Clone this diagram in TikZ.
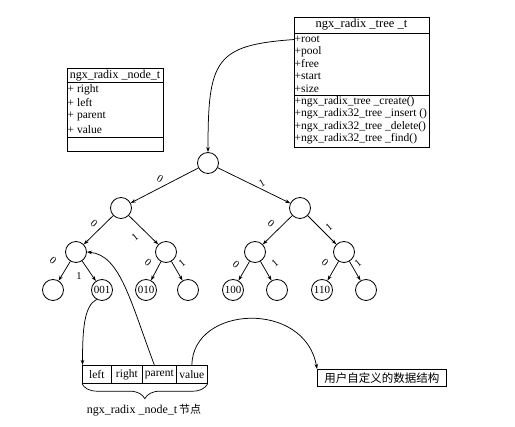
\documentclass[tikz,border=0pt]{standalone}
\usepackage{fontspec}
\setmainfont{Liberation Serif}
\newfontfamily\cjk{Noto Sans CJK SC}
\usetikzlibrary{arrows.meta,decorations.pathreplacing}
\begin{document}
\begin{tikzpicture}[x=1pt,y=-1pt,
  tn/.style={circle,draw,line width=0.8pt,minimum size=21pt,inner sep=0pt,font=\fontsize{11}{12}\selectfont},
  arr/.style={-{Stealth[length=5pt,width=3.5pt]},line width=0.75pt},
  el/.style={font=\fontsize{10.5}{11}\selectfont,inner sep=0pt},
  bt/.style={anchor=west,inner sep=0pt,font=\fontsize{11.5}{12}\selectfont},
  boxr/.style={draw,line width=0.7pt,inner sep=0pt,anchor=north west},
  cell/.style={draw,line width=0.7pt,inner sep=0pt,anchor=north west,minimum height=18pt,font=\fontsize{11.5}{12}\selectfont}
]
\useasboundingbox (0,0) rectangle (515,427);

% ---- ngx_radix_tree_t box
\node[boxr,minimum width=135pt,minimum height=130pt] (treebox) at (294,17) {};
\draw[line width=0.7pt] (294,33) -- (429,33);
\draw[line width=0.7pt] (294,95.5) -- (429,95.5);
\node[bt,anchor=center,font=\fontsize{12.5}{13}\selectfont] (ttitle) at (361.5,25) {ngx\_radix \_tree \_t};
\node[bt] (troot) at (294.5,39.5) {+root};
\node[bt] (tpool) at (294.5,51.7) {+pool};
\node[bt] (tfree) at (294.5,63.5) {+free};
\node[bt] (tstart) at (294.5,76) {+start};
\node[bt] (tsize) at (294.5,88.3) {+size};
\node[bt] (tm1) at (294.5,101.7) {+ngx\_radix\_tree \_create()};
\node[bt] (tm2) at (294.5,114) {+ngx\_radix32\_tree \_insert ()};
\node[bt] (tm3) at (294.5,126.5) {+ngx\_radix32\_tree \_delete()};
\node[bt] (tm4) at (294.5,138.5) {+ngx\_radix32\_tree \_find()};

% ---- ngx_radix_node_t box
\node[boxr,minimum width=96pt,minimum height=83pt] (nodebox) at (67,68) {};
\draw[line width=0.7pt] (67,82) -- (163,82);
\draw[line width=0.7pt] (67,137.5) -- (163,137.5);
\node[bt,anchor=center,font=\fontsize{12}{13}\selectfont] (ntitle) at (115,75.5) {ngx\_radix \_node\_t};
\node[bt] (nright) at (67.5,89.5) {+ right};
\node[bt] (nleft) at (67.5,103) {+ left};
\node[bt] (nparent) at (67.5,116.5) {+ parent};
\node[bt] (nvalue) at (67.5,129.5) {+ value};

% ---- tree nodes
\node[tn] (root) at (208,163) {};
\node[tn] (L) at (121,208) {};
\node[tn] (R) at (300,208) {};
\node[tn] (LL) at (76,252) {};
\node[tn] (LR) at (166,252) {};
\node[tn] (RL) at (255,252) {};
\node[tn] (RR) at (344,252) {};
\node[tn] (l000) at (53,290) {};
\node[tn] (l001) at (102,290) {001};
\node[tn] (l010) at (146,290) {010};
\node[tn] (l011) at (188,290) {};
\node[tn] (l100) at (233,290) {100};
\node[tn] (l101) at (277,290) {};
\node[tn] (l110) at (322,290) {110};
\node[tn] (l111) at (366,290) {};

\draw[arr] (root) -- (L);
\draw[arr] (root) -- (R);
\draw[arr] (L) -- (LL);
\draw[arr] (L) -- (LR);
\draw[arr] (R) -- (RL);
\draw[arr] (R) -- (RR);
\draw[arr] (LL) -- (l000);
\draw[arr] (LL) -- (l001);
\draw[arr] (LR) -- (l010);
\draw[arr] (LR) -- (l011);
\draw[arr] (RL) -- (l100);
\draw[arr] (RL) -- (l101);
\draw[arr] (RR) -- (l110);
\draw[arr] (RR) -- (l111);

% edge labels
\node[el,rotate=-30] (e1) at (160,179) {0};
\node[el,rotate=30] (e2) at (262,183) {1};
\node[el,rotate=-40] (e3) at (94,224) {0};
\node[el,rotate=40] (e4) at (135,237) {1};
\node[el,rotate=-40] (e5) at (271,224) {0};
\node[el,rotate=40] (e6) at (329,227) {1};
\node[el,rotate=-40] (e7) at (53,261) {0};
\node[el] (e8) at (79,276) {1};
\node[el,rotate=-40] (e9) at (148,263) {0};
\node[el,rotate=40] (e10) at (182,263) {1};
\node[el,rotate=-40] (e11) at (236,265) {0};
\node[el,rotate=40] (e12) at (275,263) {1};
\node[el,rotate=-40] (e13) at (325,263) {0};
\node[el,rotate=40] (e14) at (358,263) {1};

% root pointer
\draw[arr] (troot.west) .. controls (215,45) and (208,60) .. (root.north);

% ---- struct cells
\node[cell,minimum width=29pt] (cleft) at (82,365) {left};
\node[cell,minimum width=31pt] (cright) at (111,365) {right};
\node[cell,minimum width=34pt] (cparent) at (142,365) {parent};
\node[cell,minimum width=31pt] (cvalue) at (176,365) {value};

\draw[decorate,decoration={brace,mirror,amplitude=15pt},line width=0.7pt]
  (cleft.south west) -- (cvalue.south east);
\node[inner sep=0pt,font=\fontsize{12}{13}\selectfont] (lbl) at (144,410) {ngx\_radix \_node\_t\,{\cjk\fontsize{11}{12}\selectfont 节点}};

\node[boxr,minimum width=129pt,minimum height=17pt,font=\cjk\fontsize{11.5}{12}\selectfont] (user) at (317,369) {用户自定义的数据结构};

\draw[arr] (l001.240) .. controls (84,306) and (82.5,330) .. ([xshift=0.5pt]cleft.north west);
\draw[arr] ([xshift=-5pt]cparent.north) .. controls (130,300) and (120,255) .. (LL.east);
\draw[arr] (cvalue.north) .. controls (193,305) and (305,300) .. (user.north west);
\end{tikzpicture}
\end{document}
